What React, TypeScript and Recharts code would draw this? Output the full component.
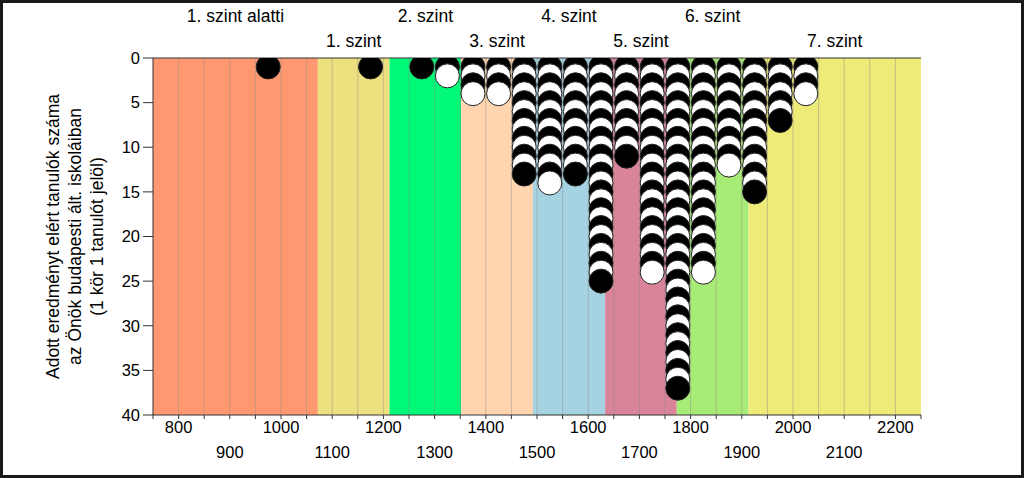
import React from "react";
import {
  ScatterChart,
  Scatter,
  XAxis,
  YAxis,
  ReferenceArea,
  ReferenceLine,
} from "recharts";

// score bins (centre of each 50-point bin) and number of students in them
const binCenters = [975, 1175, 1275, 1325, 1375, 1425, 1475, 1525, 1575, 1625, 1675, 1725, 1775, 1825, 1875, 1925, 1975, 2025];
const studentCounts = [1, 1, 1, 2, 4, 4, 13, 14, 13, 25, 11, 24, 37, 24, 12, 15, 7, 4];

// proficiency levels
const levelNames = ["1. szint alatti", "1. szint", "2. szint", "3. szint", "4. szint", "5. szint", "6. szint", "7. szint"];
const levelStarts = [750, 1072, 1212, 1352, 1492, 1633, 1773, 1913];
const levelEnds = [1072, 1212, 1352, 1492, 1633, 1773, 1913, 2250];
const levelColors = ["#FF9870", "#EDE07F", "#00FA78", "#FFD4AE", "#A6D3E2", "#DA8499", "#A8EC78", "#EEEB78"];

const xTicks = [750, 800, 850, 900, 950, 1000, 1050, 1100, 1150, 1200, 1250, 1300, 1350, 1400, 1450, 1500, 1550, 1600, 1650, 1700, 1750, 1800, 1850, 1900, 1950, 2000, 2050, 2100, 2150, 2200, 2250];
const gridLines = [800, 850, 900, 950, 1000, 1050, 1100, 1150, 1200, 1250, 1300, 1350, 1400, 1450, 1500, 1550, 1600, 1650, 1700, 1750, 1800, 1850, 1900, 1950, 2000, 2050, 2100, 2150, 2200];
const yTicks = [0, 5, 10, 15, 20, 25, 30, 35, 40];

const yTitle = [
  "Adott eredményt elért tanulók száma",
  "az Önök budapesti ált. iskoláiban",
  "(1 kör 1 tanulót jelöl)",
];

// one marker per student, stacked downwards in its bin
const points: { x: number; y: number }[] = [];
binCenters.forEach((c, i) => {
  for (let k = 1; k <= studentCounts[i]; k++) points.push({ x: c, y: k });
});

const AXIS = "#333";

function Dot(props: any) {
  const { cx, cy, payload } = props;
  const odd = payload.y % 2 === 1;
  return (
    <circle cx={cx} cy={cy} r={12} fill={odd ? "#000" : "#fff"} stroke="#222" strokeWidth={1} />
  );
}

function BottomTick(props: any) {
  const { x, y, payload } = props;
  const v = payload.value;
  if (v % 100 !== 0) return <g />;
  const lower = (v / 100) % 2 === 1;
  return (
    <text x={x} y={y + (lower ? 37 : 12)} textAnchor="middle" fontSize={16.5} fill="#000">
      {v}
    </text>
  );
}

function YTitle(props: any) {
  const { viewBox } = props;
  const cy = viewBox.y + viewBox.height / 2;
  return (
    <g>
      {yTitle.map((t, i) => {
        const cx = viewBox.x + i * 22;
        return (
          <text
            key={i}
            x={cx}
            y={cy}
            transform={`rotate(-90, ${cx}, ${cy})`}
            textAnchor="middle"
            dominantBaseline="central"
            fontSize={17.5}
            fill="#000"
          >
            {t}
          </text>
        );
      })}
    </g>
  );
}

export default function App() {
  return (
    <div
      style={{
        position: "absolute",
        left: 0,
        top: 0,
        width: 1024,
        height: 478,
        background: "#fff",
        fontFamily: "'Liberation Sans', Arial, sans-serif",
      }}
    >
      <ScatterChart width={1024} height={478} margin={{ top: 50, right: 103, bottom: 10, left: 53 }}>
        <XAxis
          xAxisId={0}
          type="number"
          dataKey="x"
          domain={[750, 2250]}
          ticks={xTicks}
          interval={0}
          allowDataOverflow
          height={53}
          tickSize={4}
          tickMargin={2}
          axisLine={{ stroke: AXIS }}
          tickLine={{ stroke: AXIS }}
          tick={<BottomTick />}
        />
        <XAxis
          xAxisId="top"
          orientation="top"
          type="number"
          domain={[750, 2250]}
          ticks={xTicks}
          interval={0}
          allowDataOverflow
          height={8}
          tickSize={4}
          axisLine={{ stroke: AXIS }}
          tickLine={{ stroke: AXIS }}
          tick={() => <g />}
        />
        <YAxis
          type="number"
          dataKey="y"
          domain={[0, 40]}
          ticks={yTicks}
          interval={0}
          reversed
          allowDataOverflow
          width={100}
          tickSize={10}
          tickMargin={3}
          axisLine={{ stroke: AXIS }}
          tickLine={{ stroke: AXIS }}
          tick={{ fontSize: 16.5, fill: "#000" }}
          label={<YTitle />}
        />
        {levelNames.map((name, i) => (
          <ReferenceArea
            key={name}
            x1={levelStarts[i]}
            x2={levelEnds[i]}
            y1={0}
            y2={40}
            fill={levelColors[i]}
            fillOpacity={1}
            stroke="none"
            label={{
              value: name,
              position: "top",
              offset: i % 2 === 0 ? 36 : 11,
              fontSize: 17.5,
              fill: "#000",
            }}
          />
        ))}
        {gridLines.map((g) => (
          <ReferenceLine key={g} x={g} stroke="#8c8c8c" strokeOpacity={0.45} strokeWidth={1} />
        ))}
        <Scatter data={points} shape={<Dot />} isAnimationActive={false} />
      </ScatterChart>
      <div
        style={{
          position: "absolute",
          left: 0,
          top: 0,
          width: 1024,
          height: 478,
          boxSizing: "border-box",
          border: "3px solid #1a1a1a",
          pointerEvents: "none",
        }}
      />
    </div>
  );
}
